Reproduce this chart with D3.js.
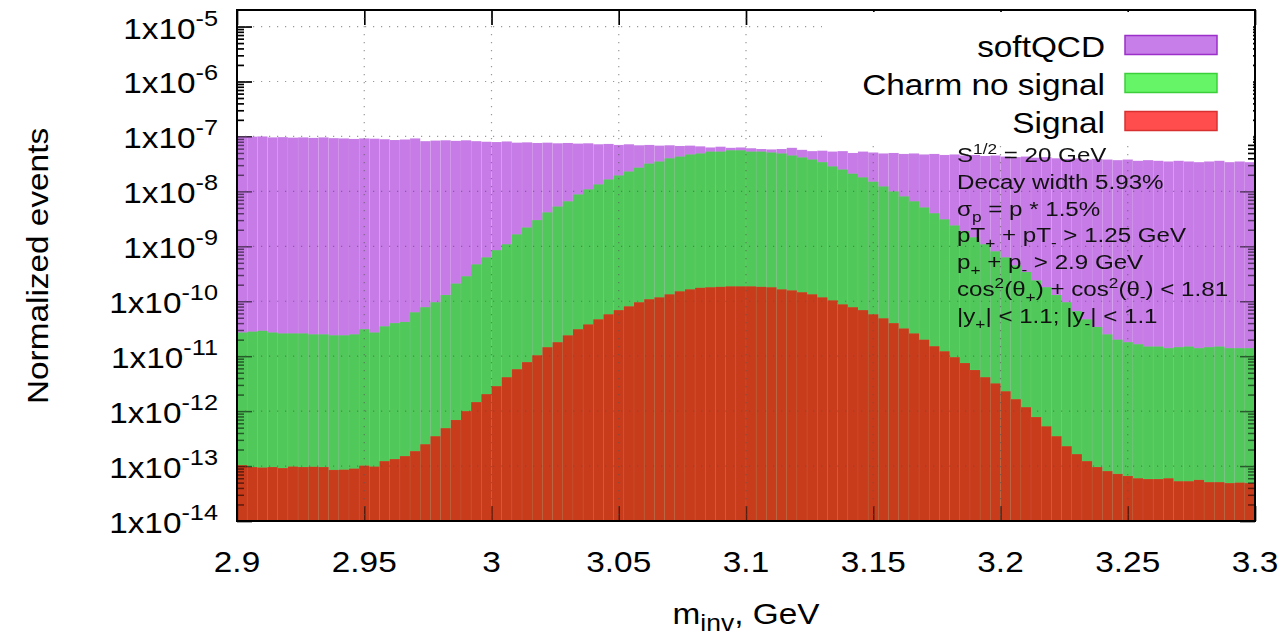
<!DOCTYPE html>
<html>
<head>
<meta charset="utf-8">
<title>m_inv histogram</title>
<style>
  body { margin: 0; background: #fff; }
  svg { display: block; font-family: "Liberation Sans", Arial, sans-serif; }
</style>
<script src="https://d3js.org/d3.v7.min.js"></script>
</head>
<body>
<svg width="1286" height="638"></svg>
<script>
// histogram binning
const massRange = [2.9, 3.3];
const nBins = 100;

const xTicks = [2.9, 2.95, 3, 3.05, 3.1, 3.15, 3.2, 3.25, 3.3];
const xTickLabels = ["2.9", "2.95", "3", "3.05", "3.1", "3.15", "3.2", "3.25", "3.3"];
const yExponents = [-14, -13, -12, -11, -10, -9, -8, -7, -6, -5];

// bin contents as drawn (each histogram from the bottom up)
const softQCD = [
  1.0e-7, 9.9e-8, 1.0e-7, 9.6e-8, 9.7e-8, 9.5e-8, 9.6e-8, 9.4e-8, 9.6e-8, 9.3e-8,
  9.2e-8, 9.0e-8, 9.2e-8, 9.1e-8, 8.9e-8, 8.6e-8, 8.8e-8, 9.2e-8, 8.2e-8, 8.4e-8,
  8.5e-8, 8.3e-8, 8.5e-8, 8.2e-8, 8.0e-8, 7.9e-8, 8.1e-8, 7.7e-8, 7.8e-8, 7.6e-8,
  7.7e-8, 7.5e-8, 7.6e-8, 7.4e-8, 7.5e-8, 7.2e-8, 7.3e-8, 7.0e-8, 7.2e-8, 6.9e-8,
  7.0e-8, 6.8e-8, 6.9e-8, 6.7e-8, 6.8e-8, 6.6e-8, 6.3e-8, 6.5e-8, 6.2e-8, 6.3e-8,
  6.1e-8, 5.9e-8, 5.8e-8, 5.9e-8, 6.2e-8, 5.7e-8, 5.4e-8, 5.5e-8, 5.3e-8, 5.4e-8,
  5.0e-8, 5.3e-8, 5.1e-8, 4.9e-8, 5.0e-8, 4.8e-8, 4.9e-8, 4.7e-8, 4.8e-8, 4.6e-8,
  4.7e-8, 4.5e-8, 4.6e-8, 4.4e-8, 4.5e-8, 4.3e-8, 4.2e-8, 4.3e-8, 4.1e-8, 4.2e-8,
  4.0e-8, 3.9e-8, 4.0e-8, 3.8e-8, 3.9e-8, 3.8e-8, 3.7e-8, 3.8e-8, 3.6e-8, 3.7e-8,
  3.6e-8, 3.5e-8, 3.6e-8, 3.5e-8, 3.4e-8, 3.5e-8, 3.6e-8, 3.4e-8, 3.5e-8, 3.4e-8
];
const charmNoSignal = [
  2.7e-11, 2.8e-11, 2.9e-11, 2.7e-11, 2.6e-11, 2.6e-11, 2.6e-11, 2.5e-11, 2.5e-11, 2.4e-11,
  2.4e-11, 2.5e-11, 3.1e-11, 2.7e-11, 3.5e-11, 4.0e-11, 4.2e-11, 6.3e-11, 7.8e-11, 9.6e-11,
  1.3e-10, 2.1e-10, 2.85e-10, 4.7e-10, 6.3e-10, 8.5e-10, 1.09e-9, 1.65e-9, 2.2e-9, 3.0e-9,
  4.15e-9, 5.3e-9, 6.6e-9, 8.8e-9, 1.09e-8, 1.34e-8, 1.65e-8, 1.95e-8, 2.3e-8, 2.7e-8,
  3.2e-8, 3.5e-8, 4.0e-8, 4.3e-8, 4.7e-8, 4.9e-8, 5.3e-8, 5.3e-8, 5.6e-8, 5.6e-8,
  5.3e-8, 5.3e-8, 5.1e-8, 4.9e-8, 4.5e-8, 4.15e-8, 3.8e-8, 3.4e-8, 2.85e-8, 2.5e-8,
  2.1e-8, 1.8e-8, 1.5e-8, 1.23e-8, 1.0e-8, 8.1e-9, 6.6e-9, 5.1e-9, 4.0e-9, 3.1e-9,
  2.4e-9, 1.9e-9, 1.46e-9, 1.09e-9, 8.1e-10, 6.3e-10, 4.5e-10, 3.4e-10, 2.4e-10, 1.8e-10,
  1.3e-10, 9.6e-11, 6.6e-11, 4.7e-11, 3.4e-11, 2.5e-11, 2.0e-11, 1.8e-11, 1.65e-11, 1.5e-11,
  1.5e-11, 1.4e-11, 1.46e-11, 1.5e-11, 1.4e-11, 1.46e-11, 1.5e-11, 1.4e-11, 1.4e-11, 1.4e-11
];
const signal = [
  1.04e-13, 9.6e-14, 9.4e-14, 9.6e-14, 9.2e-14, 9.8e-14, 9.6e-14, 9.7e-14, 9.6e-14, 8.5e-14,
  8.6e-14, 9.0e-14, 1.02e-13, 9.8e-14, 1.23e-13, 1.34e-13, 1.52e-13, 1.87e-13, 2.5e-13, 3.5e-13,
  4.9e-13, 6.9e-13, 1.0e-12, 1.46e-12, 2.04e-12, 2.85e-12, 4.15e-12, 5.8e-12, 7.8e-12, 1.04e-11,
  1.46e-11, 1.8e-11, 2.4e-11, 3.1e-11, 3.8e-11, 4.7e-11, 5.8e-11, 6.9e-11, 8.1e-11, 9.6e-11,
  1.09e-10, 1.18e-10, 1.34e-10, 1.52e-10, 1.65e-10, 1.76e-10, 1.80e-10, 1.83e-10, 1.87e-10, 1.87e-10,
  1.87e-10, 1.83e-10, 1.80e-10, 1.65e-10, 1.58e-10, 1.46e-10, 1.34e-10, 1.18e-10, 1.04e-10, 8.8e-11,
  7.8e-11, 6.9e-11, 5.8e-11, 4.9e-11, 4.0e-11, 3.2e-11, 2.6e-11, 2.0e-11, 1.52e-11, 1.23e-11,
  9.6e-12, 7.5e-12, 5.6e-12, 4.15e-12, 3.2e-12, 2.3e-12, 1.65e-12, 1.18e-12, 7.8e-13, 5.3e-13,
  3.5e-13, 2.3e-13, 1.65e-13, 1.23e-13, 9.6e-14, 8.1e-14, 7.2e-14, 6.6e-14, 6.0e-14, 5.8e-14,
  5.8e-14, 6.0e-14, 5.3e-14, 5.3e-14, 5.6e-14, 5.1e-14, 5.1e-14, 4.9e-14, 5.0e-14, 4.9e-14
];

const seriesNames = ["softQCD", "Charm no signal", "Signal"];
const barColors = ["#c67be6", "#51c95a", "#c83c1c"];
const keyFill = ["#c77ee8", "#66f566", "#ff4d4d"];
const keyStroke = ["#9a2fc9", "#3ccf3c", "#d83030"];

// annotation lines: [text, "" | "sub" | "sup"]
const infoLines = [
  [["S", ""], ["1/2", "sup"], [" = 20 GeV", ""]],
  [["Decay width 5.93%", ""]],
  [["σ", ""], ["p", "sub"], [" = p * 1.5%", ""]],
  [["pT", ""], ["+", "sub"], [" + pT", ""], ["-", "sub"], [" > 1.25 GeV", ""]],
  [["p", ""], ["+", "sub"], [" + p", ""], ["-", "sub"], [" > 2.9 GeV", ""]],
  [["cos", ""], ["2", "sup"], ["(θ", ""], ["+", "sub"], [") + cos", ""], ["2", "sup"], ["(θ", ""], ["-", "sub"], [") < 1.81", ""]],
  [["|y", ""], ["+", "sub"], ["| < 1.1; |y", ""], ["-", "sub"], ["| < 1.1", ""]]
];

const svg = d3.select("svg");
const pL = 237, pR = 1255, pT = 10, pB = 521;
const fs = 29;          // main font size
const wide = 1.15;      // the original font runs wider than Liberation Sans

const x = d3.scaleLinear().domain(massRange).range([pL, pR]);
const y = d3.scaleLog().domain([1e-14, 2e-5]).range([pB, pT]);
const binW = (massRange[1] - massRange[0]) / nBins;

const yMajor = yExponents.map(e => Math.pow(10, e));
const yMinor = [];
yExponents.slice(0, -1).forEach(e => {
  for (let k = 2; k <= 9; k++) yMinor.push(k * Math.pow(10, e));
});

// text placed at (tx,ty), optionally rotated, stretched a bit horizontally
function label(parent, tx, ty, size, anchor, rot) {
  return parent.append("text")
    .attr("transform", `translate(${tx},${ty})` + (rot ? ` rotate(${rot})` : "") + ` scale(${wide},1)`)
    .attr("font-size", size)
    .attr("text-anchor", anchor);
}

// ticks (drawn twice: solid under the bars, faded over them)
function drawTicks(opacity) {
  const g = svg.append("g").attr("opacity", opacity);
  g.append("g").attr("transform", `translate(${pL},0)`)
    .call(d3.axisLeft(y).tickValues(yMajor).tickSize(-15).tickFormat(""));
  g.append("g").attr("transform", `translate(${pL},0)`)
    .call(d3.axisLeft(y).tickValues(yMinor).tickSize(-7).tickFormat(""));
  g.append("g").attr("transform", `translate(${pR},0)`)
    .call(d3.axisRight(y).tickValues(yMajor).tickSize(-15).tickFormat(""));
  g.append("g").attr("transform", `translate(${pR},0)`)
    .call(d3.axisRight(y).tickValues(yMinor).tickSize(-7).tickFormat(""));
  g.append("g").attr("transform", `translate(0,${pB})`)
    .call(d3.axisBottom(x).tickValues(xTicks).tickSize(-15).tickFormat(""));
  g.append("g").attr("transform", `translate(0,${pT})`)
    .call(d3.axisTop(x).tickValues(xTicks).tickSize(-15).tickFormat(""));
  g.selectAll(".domain").remove();
  g.selectAll(".tick line").attr("stroke", "#000").attr("stroke-width", 1.5);
}
drawTicks(1);

// histograms, drawn one over the other
[softQCD, charmNoSignal, signal].forEach((vals, s) => {
  svg.append("g").selectAll("rect")
    .data(vals)
    .join("rect")
    .attr("x", (d, i) => x(massRange[0] + i * binW))
    .attr("width", (d, i) => x(massRange[0] + (i + 1) * binW) - x(massRange[0] + i * binW))
    .attr("y", d => y(d))
    .attr("height", d => pB - y(d))
    .attr("fill", barColors[s])
    .attr("stroke", "#ffffff")
    .attr("stroke-opacity", 0.08)
    .attr("stroke-width", 0.6);
});

drawTicks(0.55);

// dotted grid
const grid = svg.append("g").attr("stroke", "#555").attr("stroke-opacity", 0.6)
  .attr("stroke-width", 1.2).attr("stroke-dasharray", "1.2,6.8");
grid.selectAll(".gx").data(xTicks.slice(1, -1)).join("line")
  .attr("x1", d => x(d)).attr("x2", d => x(d))
  .attr("y1", pT).attr("y2", pB);
grid.selectAll(".gy").data(yMajor.slice(1)).join("line")
  .attr("x1", pL).attr("x2", pR)
  .attr("y1", d => y(d)).attr("y2", d => y(d));

// frame
svg.append("rect")
  .attr("x", pL).attr("y", pT)
  .attr("width", pR - pL).attr("height", pB - pT)
  .attr("fill", "none").attr("stroke", "#000").attr("stroke-width", 2);

// tick labels
yExponents.forEach(e => {
  const t = label(svg, 218, y(Math.pow(10, e)) + 12, fs, "end");
  t.append("tspan").text("1x10");
  t.append("tspan").attr("font-size", 22).attr("dy", -13).text(e);
});
xTicks.forEach((v, i) => {
  label(svg, x(v), 572, fs, "middle").text(xTickLabels[i]);
});

// axis titles
label(svg, 48, 266, fs, "middle", -90).text("Normalized events");
const xTitle = label(svg, 746, 624, fs, "middle");
xTitle.append("tspan").text("m");
xTitle.append("tspan").attr("font-size", 23).attr("dy", 7).text("inv");
xTitle.append("tspan").attr("dy", -7).text(", GeV");

// key
svg.append("rect").attr("x", 822).attr("y", 12).attr("width", 431).attr("height", 131)
  .attr("fill", "#fff");
seriesNames.forEach((name, i) => {
  const cy = 45 + i * 38;
  label(svg, 1105, cy + 12, fs, "end").text(name);
  svg.append("rect").attr("x", 1125).attr("y", cy - 9.5)
    .attr("width", 92).attr("height", 19)
    .attr("fill", keyFill[i]).attr("stroke", keyStroke[i]).attr("stroke-width", 1.5);
});

// run conditions
infoLines.forEach((segs, i) => {
  const t = label(svg, 957, 162 + i * 26.8, 21, "start").attr("fill", "#111");
  let cur = 0;
  segs.forEach(([txt, kind]) => {
    const off = kind === "sup" ? -8 : kind === "sub" ? 6 : 0;
    t.append("tspan")
      .attr("dy", off - cur)
      .attr("font-size", kind ? 15 : 21)
      .text(txt);
    cur = off;
  });
});
</script>
</body>
</html>
